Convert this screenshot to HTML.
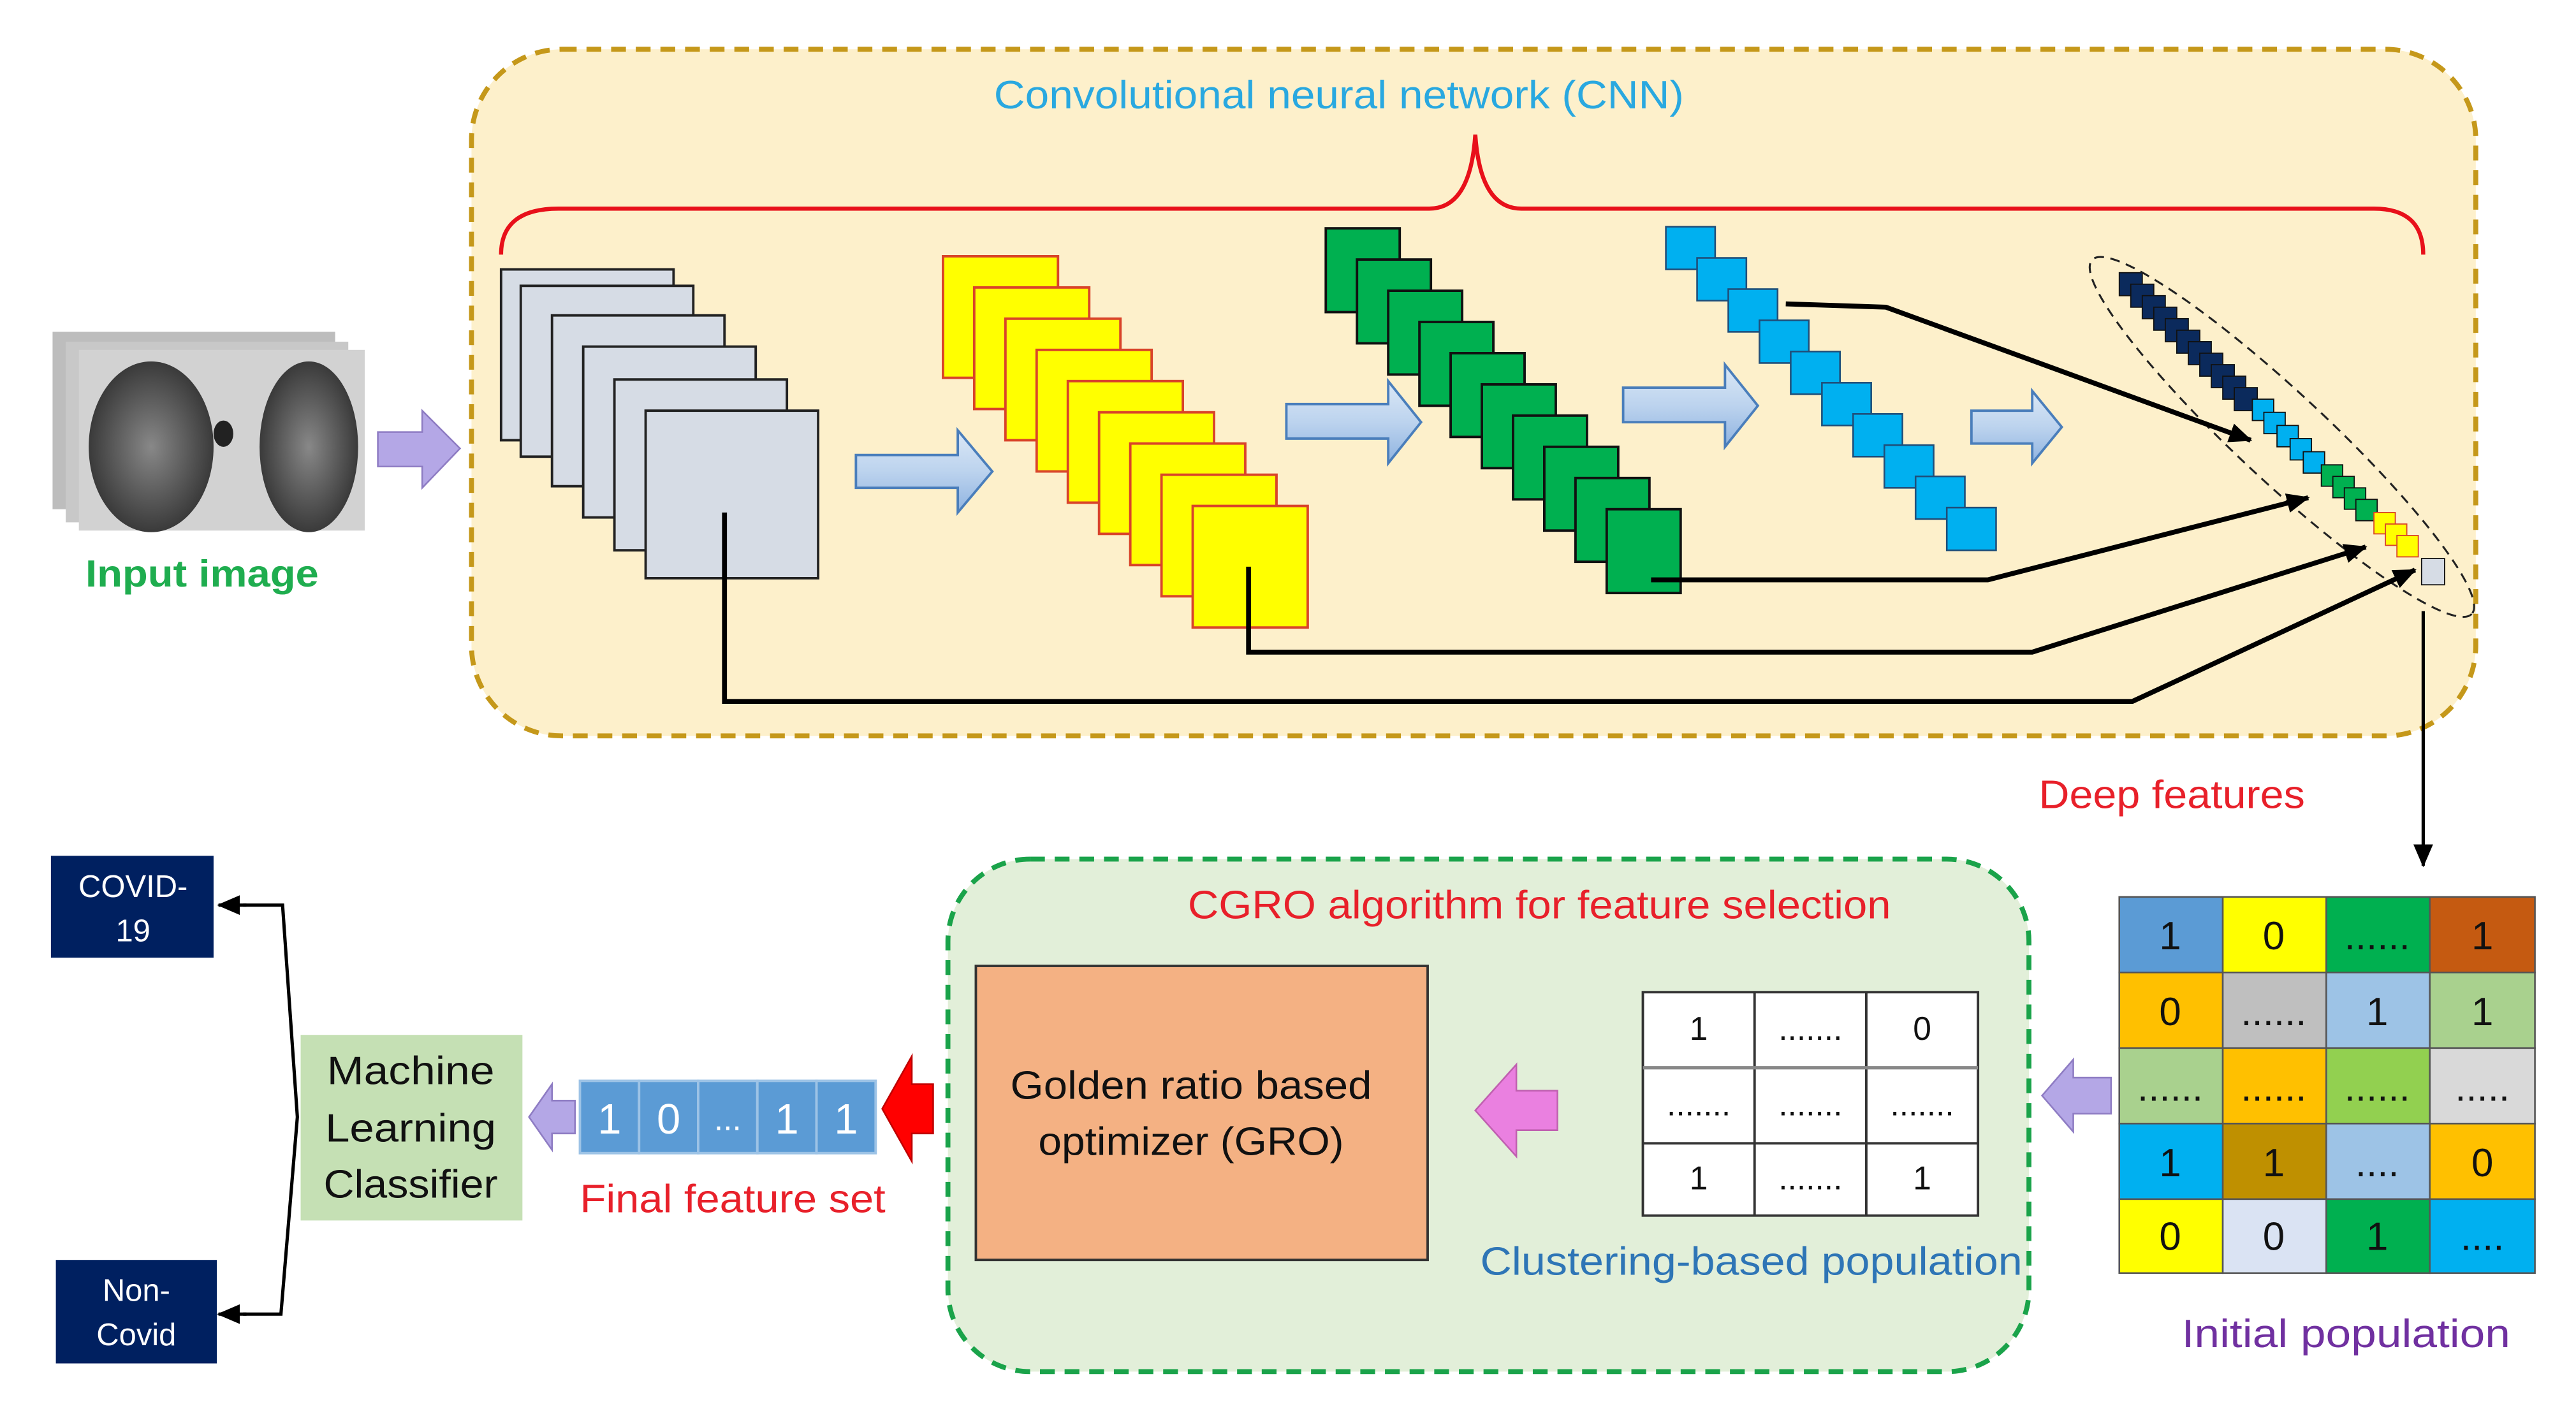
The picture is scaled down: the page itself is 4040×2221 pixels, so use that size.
<!DOCTYPE html>
<html><head><meta charset="utf-8"><style>
html,body{margin:0;padding:0;background:#fff}
svg{display:block}
text{font-family:"Liberation Sans","DejaVu Sans",sans-serif}
</style></head><body>
<svg width="4040" height="2221" viewBox="0 0 1568 862" preserveAspectRatio="xMinYMin meet" xmlns="http://www.w3.org/2000/svg">
<defs>
<marker id="ah2" markerWidth="14" markerHeight="12" refX="13" refY="6" orient="auto" markerUnits="userSpaceOnUse"><path d="M0,0 L14,6 L0,12 z" fill="#000"/></marker>
<linearGradient id="bg" x1="0" y1="0" x2="0" y2="1"><stop offset="0" stop-color="#dbe8f6"/><stop offset="0.5" stop-color="#bcd3ee"/><stop offset="1" stop-color="#8fb3e0"/></linearGradient>
<radialGradient id="lung" cx="0.5" cy="0.5" r="0.5"><stop offset="0" stop-color="#888"/><stop offset="1" stop-color="#3a3a3a"/></radialGradient>
</defs>

<rect x="287" y="30" width="1220" height="418" rx="55" fill="#fdf0cb" stroke="#c5981a" stroke-width="3" stroke-dasharray="9,6"/>
<text x="815" y="66" font-size="24" fill="#29a8e0" text-anchor="middle" textLength="420" lengthAdjust="spacingAndGlyphs">Convolutional neural network (CNN)</text>
<path d="M305,155 Q305,127 340,127 L870,127 Q895,127 898,82 Q901,127 926,127 L1445,127 Q1475,127 1475,155" fill="none" stroke="#e8101a" stroke-width="2.5"/>

<g>
<rect x="32" y="202" width="172" height="108" fill="#bdbdbd"/>
<rect x="40" y="208" width="172" height="110" fill="#c8c8c8"/>
<rect x="48" y="213" width="174" height="110" fill="#d2d2d2"/>
<ellipse cx="92" cy="272" rx="38" ry="52" fill="url(#lung)"/>
<ellipse cx="188" cy="272" rx="30" ry="52" fill="url(#lung)"/>
<ellipse cx="136" cy="264" rx="6" ry="8" fill="#222"/>
</g>
<text x="123" y="357" font-size="23" font-weight="bold" fill="#1fad4f" text-anchor="middle" textLength="142" lengthAdjust="spacingAndGlyphs">Input image</text>
<path d="M230,263 L257,263 L257,250 L280,273 L257,297 L257,284 L230,284 z" fill="#b4a7e6" stroke="#8e7cc3" stroke-width="1"/>

<g fill="#d6dce5" stroke="#222" stroke-width="1.5">
<rect x="305" y="164" width="105" height="104"/>
<rect x="317" y="174" width="105" height="104"/>
<rect x="336" y="192" width="105" height="104"/>
<rect x="355" y="211" width="105" height="104"/>
<rect x="374" y="231" width="105" height="104"/>
<rect x="393" y="250" width="105" height="102"/>
</g>
<g fill="#ffff00" stroke="#d9432a" stroke-width="1.5">
<rect x="574" y="156" width="70" height="74"/>
<rect x="593" y="175" width="70" height="74"/>
<rect x="612" y="194" width="70" height="74"/>
<rect x="631" y="213" width="70" height="74"/>
<rect x="650" y="232" width="70" height="74"/>
<rect x="669" y="251" width="70" height="74"/>
<rect x="688" y="270" width="70" height="74"/>
<rect x="707" y="289" width="70" height="74"/>
<rect x="726" y="308" width="70" height="74"/>
</g>
<g fill="#00b050" stroke="#111" stroke-width="1.5">
<rect x="807" y="139" width="45" height="51"/>
<rect x="826" y="158" width="45" height="51"/>
<rect x="845" y="177" width="45" height="51"/>
<rect x="864" y="196" width="45" height="51"/>
<rect x="883" y="215" width="45" height="51"/>
<rect x="902" y="234" width="45" height="51"/>
<rect x="921" y="253" width="45" height="51"/>
<rect x="940" y="272" width="45" height="51"/>
<rect x="959" y="291" width="45" height="51"/>
<rect x="978" y="310" width="45" height="51"/>
</g>
<g fill="#00b0f0" stroke="#1f4e79" stroke-width="1">
<rect x="1014" y="138" width="30" height="26"/>
<rect x="1033" y="157" width="30" height="26"/>
<rect x="1052" y="176" width="30" height="26"/>
<rect x="1071" y="195" width="30" height="26"/>
<rect x="1090" y="214" width="30" height="26"/>
<rect x="1109" y="233" width="30" height="26"/>
<rect x="1128" y="252" width="30" height="26"/>
<rect x="1147" y="271" width="30" height="26"/>
<rect x="1166" y="290" width="30" height="26"/>
<rect x="1185" y="309" width="30" height="26"/>
</g>

<g fill="url(#bg)" stroke="#4a7ebb" stroke-width="1.5">
<path d="M521,277 L583,277 L583,262 L604,287 L583,312 L583,297 L521,297 z"/>
<path d="M783,246 L845,246 L845,232 L865,257 L845,282 L845,267 L783,267 z"/>
<path d="M988,236 L1050,236 L1050,222 L1070,247 L1050,272 L1050,257 L988,257 z"/>
<path d="M1200,250 L1237,250 L1237,238 L1255,260 L1237,282 L1237,270 L1200,270 z"/>
</g>

<g stroke="#111" stroke-width="0.7">
<g fill="#0b2a5c">
<rect x="1290" y="166" width="14" height="14"/><rect x="1297" y="173" width="14" height="14"/><rect x="1304" y="180" width="14" height="14"/><rect x="1311" y="187" width="14" height="14"/><rect x="1318" y="194" width="14" height="14"/><rect x="1325" y="201" width="14" height="14"/><rect x="1332" y="208" width="14" height="14"/><rect x="1339" y="215" width="14" height="14"/><rect x="1346" y="222" width="14" height="14"/><rect x="1353" y="229" width="14" height="14"/><rect x="1360" y="236" width="14" height="14"/>
</g>
<g fill="#00b0f0">
<rect x="1371" y="243" width="13" height="13"/><rect x="1378" y="251" width="13" height="13"/><rect x="1386" y="259" width="13" height="13"/><rect x="1394" y="267" width="13" height="13"/><rect x="1402" y="275" width="13" height="13"/>
</g>
<g fill="#00b050">
<rect x="1413" y="283" width="13" height="13"/><rect x="1420" y="290" width="13" height="13"/><rect x="1427" y="297" width="13" height="13"/><rect x="1434" y="304" width="13" height="13"/>
</g>
<g fill="#ffff00" stroke="#d9432a">
<rect x="1445" y="312" width="13" height="13"/><rect x="1452" y="319" width="13" height="13"/><rect x="1459" y="326" width="13" height="13"/>
</g>
<rect x="1474" y="340" width="14" height="16" fill="#d6dce5"/>
</g>
<ellipse cx="1389" cy="266" rx="158" ry="27" transform="rotate(43 1389 266)" fill="none" stroke="#222" stroke-width="1.2" stroke-dasharray="6,4"/>

<g fill="none" stroke="#000" stroke-width="3">
<polyline points="1087,185 1148,187 1370,268" marker-end="url(#ah2)"/>
<polyline points="1005,353 1210,353 1405,303" marker-end="url(#ah2)"/>
<polyline points="760,345 760,397 1237,397 1440,333" marker-end="url(#ah2)"/>
<polyline points="441,312 441,427 1298,427 1470,347" marker-end="url(#ah2)"/>
</g>
<line x1="1475" y1="372" x2="1475" y2="527" stroke="#000" stroke-width="2" marker-end="url(#ah2)"/>
<text x="1322" y="492" font-size="24" fill="#e8202a" text-anchor="middle" textLength="162" lengthAdjust="spacingAndGlyphs">Deep features</text>

<rect x="577" y="523" width="658" height="312" rx="50" fill="#e2efd9" stroke="#1aa34a" stroke-width="3" stroke-dasharray="9,6"/>
<text x="937" y="559" font-size="24" fill="#e8202a" text-anchor="middle" textLength="428" lengthAdjust="spacingAndGlyphs">CGRO algorithm for feature selection</text>
<rect x="594" y="588" width="275" height="179" fill="#f4b183" stroke="#333" stroke-width="1.5"/>
<text x="725" y="669" font-size="24" fill="#111" text-anchor="middle" textLength="220" lengthAdjust="spacingAndGlyphs">Golden ratio based</text>
<text x="725" y="703" font-size="24" fill="#111" text-anchor="middle" textLength="186" lengthAdjust="spacingAndGlyphs">optimizer (GRO)</text>
<path d="M948,664 L923,664 L923,648 L898,676 L923,704 L923,688 L948,688 z" fill="#ea80e0" stroke="#c060b0" stroke-width="1"/>

<g stroke="#333" stroke-width="1.5">
<rect x="1000" y="604" width="204" height="136" fill="#fff"/>
<line x1="1068" y1="604" x2="1068" y2="740"/><line x1="1136" y1="604" x2="1136" y2="740"/>
<line x1="1000" y1="650" x2="1204" y2="650" stroke="#888" stroke-width="2"/><line x1="1000" y1="696" x2="1204" y2="696"/>
</g>
<g font-size="20" fill="#111" text-anchor="middle">
<text x="1034" y="633">1</text><text x="1102" y="633">.......</text><text x="1170" y="633">0</text>
<text x="1034" y="679">.......</text><text x="1102" y="679">.......</text><text x="1170" y="679">.......</text>
<text x="1034" y="724">1</text><text x="1102" y="724">.......</text><text x="1170" y="724">1</text>
</g>
<text x="1066" y="776" font-size="24" fill="#2e75b6" text-anchor="middle" textLength="330" lengthAdjust="spacingAndGlyphs">Clustering-based population</text>
<path d="M1285,656 L1262,656 L1262,645 L1243,667 L1262,689 L1262,678 L1285,678 z" fill="#b4a7e6" stroke="#8e7cc3" stroke-width="1"/>

<g stroke="#555" stroke-width="1">
<rect x="1290" y="546" width="63" height="46" fill="#5b9bd5"/><rect x="1353" y="546" width="63" height="46" fill="#ffff00"/><rect x="1416" y="546" width="63" height="46" fill="#00b050"/><rect x="1479" y="546" width="64" height="46" fill="#c55a11"/>
<rect x="1290" y="592" width="63" height="46" fill="#ffc000"/><rect x="1353" y="592" width="63" height="46" fill="#bfbfbf"/><rect x="1416" y="592" width="63" height="46" fill="#9dc3e6"/><rect x="1479" y="592" width="64" height="46" fill="#a9d18e"/>
<rect x="1290" y="638" width="63" height="46" fill="#a9d18e"/><rect x="1353" y="638" width="63" height="46" fill="#ffc000"/><rect x="1416" y="638" width="63" height="46" fill="#92d050"/><rect x="1479" y="638" width="64" height="46" fill="#d9d9d9"/>
<rect x="1290" y="684" width="63" height="46" fill="#00b0f0"/><rect x="1353" y="684" width="63" height="46" fill="#bf9000"/><rect x="1416" y="684" width="63" height="46" fill="#9dc3e6"/><rect x="1479" y="684" width="64" height="46" fill="#ffc000"/>
<rect x="1290" y="730" width="63" height="45" fill="#ffff00"/><rect x="1353" y="730" width="63" height="45" fill="#dae3f3"/><rect x="1416" y="730" width="63" height="45" fill="#00b050"/><rect x="1479" y="730" width="64" height="45" fill="#00b0f0"/>
</g>
<g font-size="24" fill="#111" text-anchor="middle">
<text x="1321" y="578">1</text><text x="1384" y="578">0</text><text x="1447" y="578">......</text><text x="1511" y="578">1</text>
<text x="1321" y="624">0</text><text x="1384" y="624">......</text><text x="1447" y="624">1</text><text x="1511" y="624">1</text>
<text x="1321" y="670">......</text><text x="1384" y="670">......</text><text x="1447" y="670">......</text><text x="1511" y="670">.....</text>
<text x="1321" y="716">1</text><text x="1384" y="716">1</text><text x="1447" y="716">....</text><text x="1511" y="716">0</text>
<text x="1321" y="761">0</text><text x="1384" y="761">0</text><text x="1447" y="761">1</text><text x="1511" y="761">....</text>
</g>
<text x="1428" y="820" font-size="24" fill="#7030a0" text-anchor="middle" textLength="200" lengthAdjust="spacingAndGlyphs">Initial population</text>

<path d="M568,660 L555,660 L555,643 L537,675 L555,707 L555,690 L568,690 z" fill="#ff0000" stroke="#c00000" stroke-width="1"/>
<g fill="#5b9bd5" stroke="#9dc3e6" stroke-width="1.5">
<rect x="353" y="658" width="36" height="44"/><rect x="389" y="658" width="36" height="44"/><rect x="425" y="658" width="36" height="44"/><rect x="461" y="658" width="36" height="44"/><rect x="497" y="658" width="36" height="44"/>
</g>
<g font-size="26" fill="#fff" text-anchor="middle">
<text x="371" y="690">1</text><text x="407" y="690">0</text><text x="443" y="688" font-size="20">...</text><text x="479" y="690">1</text><text x="515" y="690">1</text>
</g>
<path d="M350,670 L336,670 L336,660 L322,680 L336,700 L336,690 L350,690 z" fill="#b4a7e6" stroke="#8e7cc3" stroke-width="1"/>
<text x="446" y="738" font-size="24" fill="#e8202a" text-anchor="middle" textLength="186" lengthAdjust="spacingAndGlyphs">Final feature set</text>

<rect x="183" y="630" width="135" height="113" fill="#c5e0b4"/>
<g font-size="24" fill="#111" text-anchor="middle">
<text x="250" y="660" textLength="102" lengthAdjust="spacingAndGlyphs">Machine</text><text x="250" y="695" textLength="104" lengthAdjust="spacingAndGlyphs">Learning</text><text x="250" y="729" textLength="106" lengthAdjust="spacingAndGlyphs">Classifier</text>
</g>
<rect x="31" y="521" width="99" height="62" fill="#002060"/>
<text x="81" y="546" font-size="19" fill="#fff" text-anchor="middle">COVID-</text>
<text x="81" y="573" font-size="19" fill="#fff" text-anchor="middle">19</text>
<rect x="34" y="767" width="98" height="63" fill="#002060"/>
<text x="83" y="792" font-size="19" fill="#fff" text-anchor="middle">Non-</text>
<text x="83" y="819" font-size="19" fill="#fff" text-anchor="middle">Covid</text>
<path d="M148,551 L172,551 L181,680 L171,800 L148,800" fill="none" stroke="#000" stroke-width="2"/>
<line x1="150" y1="551" x2="133" y2="551" stroke="#000" stroke-width="2" marker-end="url(#ah2)"/>
<line x1="150" y1="800" x2="133" y2="800" stroke="#000" stroke-width="2" marker-end="url(#ah2)"/>
</svg>
</body></html>
